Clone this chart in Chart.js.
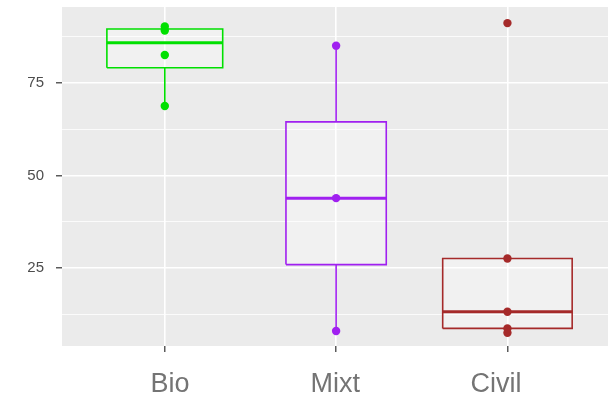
<!DOCTYPE html>
<html><head><meta charset="utf-8">
<script src="https://cdn.jsdelivr.net/npm/chart.js@4.4.1/dist/chart.umd.min.js"></script>
<style>html,body{margin:0;padding:0;background:#fff;overflow:hidden}canvas{display:block}</style>
</head><body>
<canvas id="c" width="608" height="401"></canvas>
<script>
// ---- data ----
const categories = ['Bio', 'Mixt', 'Civil'];
const bioPoints = [68.8, 82.6, 89.2, 90.3];
const mixtPoints = [8.0, 43.9, 85.1];
const civilPoints = [7.5, 8.7, 13.2, 27.6, 91.2];
const lowerHinge = [79.15, 25.95, 8.7];
const medians = [85.9, 43.9, 13.2];
const upperHinge = [89.6, 64.5, 27.6];
const whiskerMin = [68.8, 8.0, 7.5];
const whiskerMax = [90.3, 85.1, 27.6];
const yMajorTicks = [25, 50, 75];
const yMinorTicks = [12.5, 37.5, 62.5, 87.5];

// ---- styles ----
const colors = ['#00E000', '#A020F0', '#A52A2A'];
const pointsByCat = [bioPoints, mixtPoints, civilPoints];
const halfWidth = i => 0.169 * Math.sqrt(pointsByCat[i].length); // varwidth boxes
const fontFamily = "'Liberation Sans', Arial, sans-serif";

function seg(pts, color, width) {
  return {
    type: 'line', showLine: true, data: pts.map(p => ({x: p[0], y: p[1]})),
    borderColor: color, borderWidth: width, pointRadius: 0, tension: 0,
    fill: false, borderCapStyle: 'butt', borderJoinStyle: 'miter'
  };
}

const datasets = [];
// points (drawn on top)
pointsByCat.forEach((pts, i) => datasets.push({
  type: 'line', showLine: false, data: pts.map(v => ({x: i, y: v})),
  pointRadius: 4.2, pointBackgroundColor: colors[i], pointBorderWidth: 0, borderColor: colors[i]
}));
// medians
categories.forEach((c, i) => {
  const h = halfWidth(i);
  datasets.push(seg([[i - h, medians[i]], [i + h, medians[i]]], colors[i], 3));
});
// box outlines
categories.forEach((c, i) => {
  const h = halfWidth(i);
  datasets.push(seg([[i - h, lowerHinge[i]], [i + h, lowerHinge[i]], [i + h, upperHinge[i]],
                     [i - h, upperHinge[i]], [i - h, lowerHinge[i]]], colors[i], 1.6));
});
// whiskers
categories.forEach((c, i) => {
  datasets.push(seg([[i, whiskerMin[i]], [i, lowerHinge[i]]], colors[i], 1.6));
  datasets.push(seg([[i, upperHinge[i]], [i, whiskerMax[i]]], colors[i], 1.6));
});
// box fills (top edge + bottom edge filled to it)
categories.forEach((c, i) => {
  const h = halfWidth(i);
  const topIdx = datasets.length;
  const top = seg([[i - h, upperHinge[i]], [i + h, upperHinge[i]]], 'rgba(0,0,0,0)', 0);
  datasets.push(top);
  const bottom = seg([[i - h, lowerHinge[i]], [i + h, lowerHinge[i]]], 'rgba(0,0,0,0)', 0);
  bottom.fill = topIdx;
  bottom.backgroundColor = 'rgba(255,255,255,0.3)';
  datasets.push(bottom);
});

const panelBg = {
  id: 'panelBg',
  beforeDraw(chart) {
    const {ctx, chartArea: a} = chart;
    ctx.save();
    ctx.fillStyle = '#FFFFFF';
    ctx.fillRect(0, 0, chart.width, chart.height);
    ctx.fillStyle = '#EBEBEB';
    ctx.fillRect(a.left, a.top, a.right - a.left, a.bottom - a.top);
    ctx.restore();
  }
};

const labelNudge = [0.03, -0.005, -0.067];
const xMin = -0.6, xMax = 2.587;

new Chart(document.getElementById('c'), {
  type: 'line',
  data: {datasets},
  plugins: [panelBg],
  options: {
    responsive: false, animation: false, events: [],
    layout: {autoPadding: false, padding: {top: 7, left: 0, right: 0, bottom: 0}},
    plugins: {legend: {display: false}, tooltip: {enabled: false}},
    scales: {
      x: {
        type: 'linear', position: 'bottom', weight: 0, min: xMin, max: xMax,
        afterBuildTicks: s => { s.ticks = categories.map((c, i) => ({value: i})); },
        ticks: {display: false},
        grid: {color: '#FFFFFF', lineWidth: 1.6, tickColor: '#333333', tickWidth: 1.2, tickLength: 6},
        border: {display: false},
        afterFit: s => { s.height = 7; s.paddingLeft = 0; s.paddingRight = 0; }
      },
      x2: {
        type: 'linear', position: 'bottom', weight: 1, min: xMin, max: xMax,
        afterBuildTicks: s => { s.ticks = categories.map((c, i) => ({value: i + labelNudge[i]})); },
        ticks: {
          callback: (v, i) => categories[i], color: '#747474', autoSkip: false, maxRotation: 0,
          font: {family: fontFamily, size: 27}, padding: 15
        },
        grid: {display: false, drawTicks: false},
        border: {display: false},
        afterFit: s => { s.height = 48; s.paddingLeft = 0; s.paddingRight = 0; }
      },
      y: {
        type: 'linear', min: 3.95, max: 95.55,
        afterBuildTicks: s => {
          s.ticks = yMajorTicks.concat(yMinorTicks).sort((a, b) => a - b).map(v => ({value: v}));
        },
        ticks: {
          callback: v => yMajorTicks.includes(v) ? String(v) : '',
          color: '#4D4D4D', font: {family: fontFamily, size: 15}, padding: 12
        },
        grid: {
          color: '#FFFFFF',
          lineWidth: ctx => yMajorTicks.includes(ctx.tick.value) ? 1.6 : 0.8,
          tickColor: ctx => yMajorTicks.includes(ctx.tick.value) ? '#333333' : 'rgba(0,0,0,0)',
          tickWidth: 1.2, tickLength: 6
        },
        border: {display: false},
        afterFit: s => { s.width = 62; s.paddingTop = 0; s.paddingBottom = 0; }
      }
    }
  }
});
</script>
</body></html>
